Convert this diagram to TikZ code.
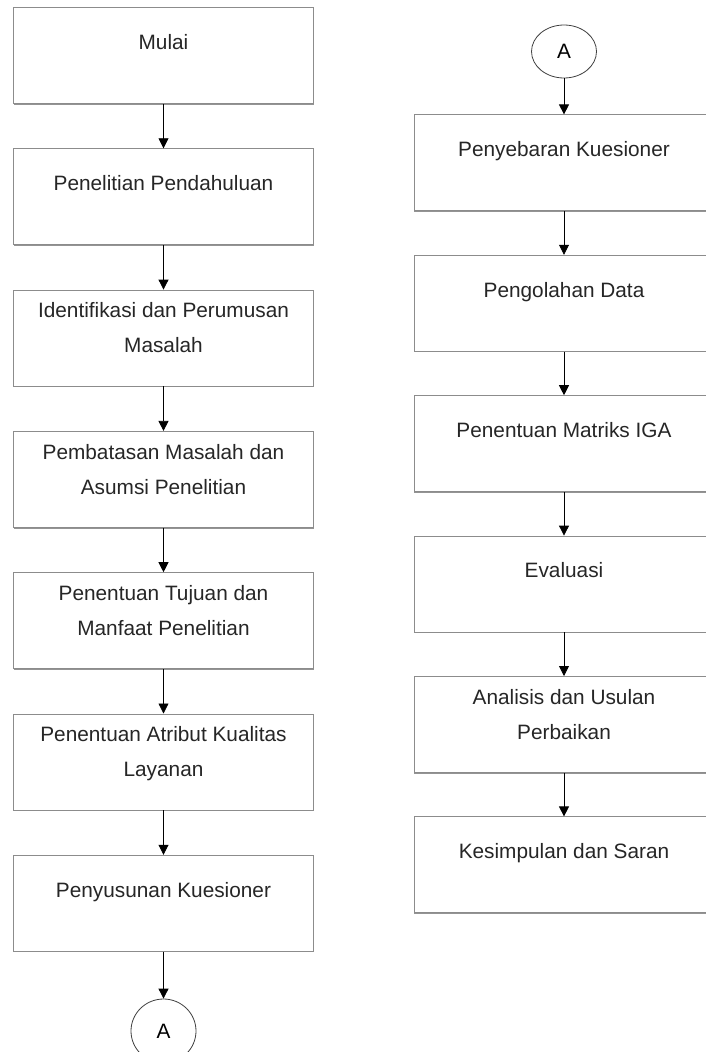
\documentclass[tikz,border=0pt]{standalone}
\usepackage{fontspec}
\setmainfont{Liberation Sans}
\usetikzlibrary{positioning}
\usetikzlibrary{arrows.meta}
\usetikzlibrary{shapes.geometric}
\usetikzlibrary{shadows}
\tikzset{every edge/.style={ % panah antar langkah
			draw,
			-{Triangle[width=10pt,length=10pt]},
			line width=0.8pt}}
\tikzset{langkah/.style={rectangle, draw=black!45, line width=0.8pt, fill=white,
			minimum width=300pt, minimum height=96pt, inner sep=0pt,
			drop shadow={shadow xshift=0pt, shadow yshift=-1.2pt, fill=black!70, opacity=0.6}},
		penghubung/.style={ellipse, draw=black!75, line width=0.8pt,
			minimum width=65pt, minimum height=53pt, inner sep=0pt},
		teks/.style={align=center, inner sep=0pt, text=black!85}}
\newcommand{\atas}{\rule{0pt}{20pt}}

\begin{document}
\begin{tikzpicture}[font=\fontsize{20.8pt}{35pt}\selectfont]
	\useasboundingbox (0,0) rectangle (705pt,-1052pt);
	% kolom kiri
	\node [langkah, anchor=north] (L1) at (163.5pt,-7pt) {};
	\node [langkah, below=44.5pt of L1] (L2) {};
	\node [langkah, below=44.5pt of L2] (L3) {};
	\node [langkah, below=44.5pt of L3] (L4) {};
	\node [langkah, below=44.5pt of L4] (L5) {};
	\node [langkah, below=44.5pt of L5] (L6) {};
	\node [langkah, below=44.5pt of L6] (L7) {};
	\node [penghubung, minimum height=64pt, below=47pt of L7] (AL) {A};
	% kolom kanan
	\node [penghubung] (AR) at (564pt,-51.5pt) {A};
	\node [langkah, below=36pt of AR] (R1) {};
	\node [langkah, below=43.6pt of R1] (R2) {};
	\node [langkah, below=43.6pt of R2] (R3) {};
	\node [langkah, below=43.6pt of R3] (R4) {};
	\node [langkah, below=43.6pt of R4] (R5) {};
	\node [langkah, below=43.6pt of R5] (R6) {};
	% teks di dalam kotak
	\node [teks, below=22pt of L1.north] (tL1) {\atas Mulai};
	\node [teks, below=22pt of L2.north] (tL2) {\atas Penelitian Pendahuluan};
	\node [teks, below=8pt of L3.north] (tL3) {\atas Identifikasi dan Perumusan\\ Masalah};
	\node [teks, below=8pt of L4.north] (tL4) {\atas Pembatasan Masalah dan\\ Asumsi Penelitian};
	\node [teks, below=8pt of L5.north] (tL5) {\atas Penentuan Tujuan dan\\ Manfaat Penelitian};
	\node [teks, below=8pt of L6.north] (tL6) {\atas Penentuan Atribut Kualitas\\ Layanan};
	\node [teks, below=22pt of L7.north] (tL7) {\atas Penyusunan Kuesioner};
	\node [teks, below=22pt of R1.north] (tR1) {\atas Penyebaran Kuesioner};
	\node [teks, below=22pt of R2.north] (tR2) {\atas Pengolahan Data};
	\node [teks, below=22pt of R3.north] (tR3) {\atas Penentuan Matriks IGA};
	\node [teks, below=22pt of R4.north] (tR4) {\atas Evaluasi};
	\node [teks, below=8pt of R5.north] (tR5) {\atas Analisis dan Usulan\\ Perbaikan};
	\node [teks, below=22pt of R6.north] (tR6) {\atas Kesimpulan dan Saran};

	\draw (L1) edge (L2) (L2) edge (L3) (L3) edge (L4) (L4) edge (L5)
		(L5) edge (L6) (L6) edge (L7) (L7) edge (AL);
	\draw (AR) edge (R1) (R1) edge (R2) (R2) edge (R3) (R3) edge (R4)
		(R4) edge (R5) (R5) edge (R6);
\end{tikzpicture}
\end{document}
